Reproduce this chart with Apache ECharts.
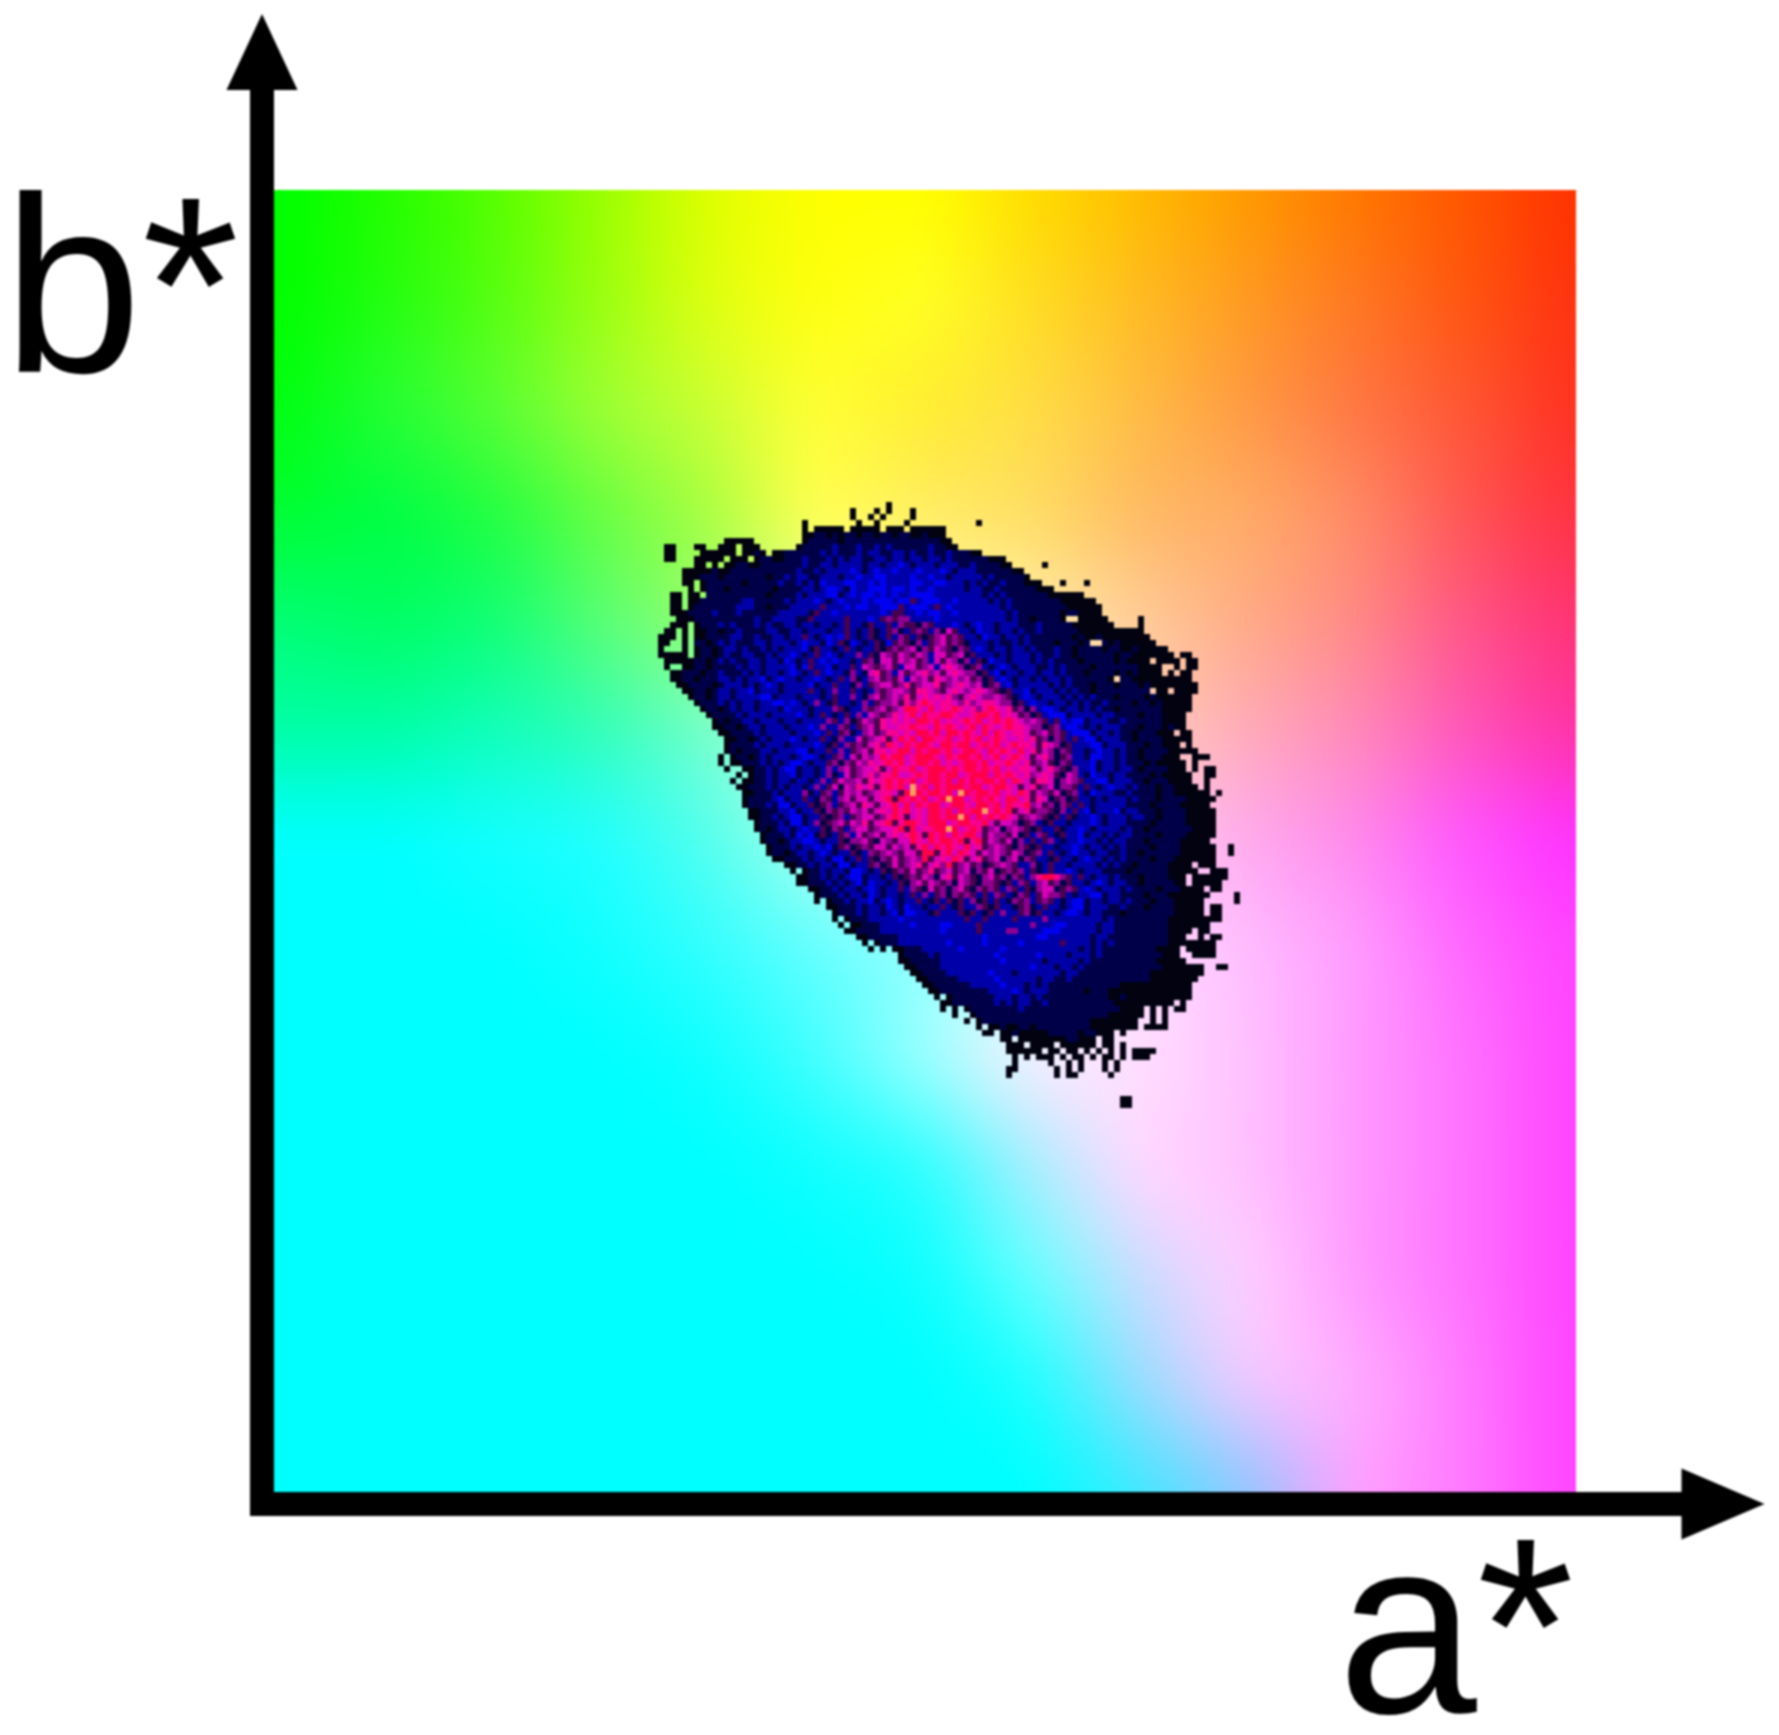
<!DOCTYPE html>
<html>
<head>
<meta charset="utf-8">
<title>a* b* scatter</title>
<style>
  html, body { margin: 0; padding: 0; background: #fff; }
  #main { width: 1779px; height: 1735px; }
  #main canvas { filter: blur(1px); }
</style>
<script src="https://cdn.jsdelivr.net/npm/echarts@6/dist/echarts.min.js"></script>
</head>
<body>
<div id="main"></div>
<script>
// colour field behind the cloud, read at 13 x 13 places, top row first
const fieldColors = [
  ['00ff00','22ff00','55ff00','99ff00','ddff00','ffff00','ffff00','ffdd00','ffbb00','ff9900','ff7700','ff5500','ff3300'],
  ['00ff00','22ff11','55ff11','99ff11','ddff11','ffff11','ffff22','ffdd22','ffbb22','ff9922','ff7722','ff5511','ff3311'],
  ['00ff11','22ff33','55ff33','99ff33','ccff33','ffff33','ffee33','ffdd44','ffbb44','ff9944','ff7744','ff5533','ff3322'],
  ['00ff33','00ff44','22ff44','66ff44','aaff44','ffff55','ffee66','ffdd66','ffbb66','ffaa66','ff8866','ff5555','ff3344'],
  ['00ff77','00ff66','11ff77','55ff77','99ff77','ddffaa','ffffaa','ffeeaa','ffcc99','ffaa88','ff8888','ff5588','ff3377'],
  ['00ffaa','00ffaa','11ffbb','33ffbb','77ffcc','ccffdd','ffffdd','ffeedd','ffccbb','ffaabb','ff88bb','ff55bb','ff33aa'],
  ['00ffff','00ffff','11ffff','22ffff','55ffee','aaffee','ddffff','ffeeff','ffccee','ffaaee','ff88ee','ff55ff','ff33ff'],
  ['00ffff','00ffff','00ffff','11ffff','33ffff','66ffff','99ffff','ddffff','ffddff','ffbbff','ff99ff','ff66ff','ff44ff'],
  ['00ffff','00ffff','00ffff','00ffff','11ffff','44ffff','99ffff','f4eeff','ffddff','ffc0ff','ff99ff','ff70ff','ff44ff'],
  ['00ffff','00ffff','00ffff','00ffff','00ffff','11ffff','33ffff','aaeeff','ffd8ff','ffc0ff','ff99ff','ff70ff','ff44ff'],
  ['00ffff','00ffff','00ffff','00ffff','00ffff','00ffff','11ffff','66ffff','ccddff','ffccff','ff99ff','ff70ff','ff44ff'],
  ['00ffff','00ffff','00ffff','00ffff','00ffff','00ffff','00ffff','22ffff','99ddff','f0c8ff','ffaaff','ff77ff','ff44ff'],
  ['00ffff','00ffff','00ffff','00ffff','00ffff','00ffff','00ffff','00ffff','44e8ff','99c4ff','ffa0ff','ff77ff','ff44ff']
]

// density levels of the cloud
const levelKeys = ['k', 'n', 'b', 'B', 'p', 'v', 'm', 'r', 'R', 'y']
const levelColors = ['#020210', '#000048', '#0000a8', '#0000f0', '#480050', '#900090', '#d800b8', '#f80090', '#ff0048', '#ffa060']

// cloud cells row by row from the top, [first column, levels], '.' is an empty cell
const cloudFirstRow = 52
const cloudFirstCol = 61
const cloudRows = [
  [41, 'k'],
  [35, 'k...k.k...k'],
  [35, 'k..k.k....k'],
  [27, 'k........k ..k....k.. .........k'],
  [27, 'k.kkkkk.kk kkk.kkk.kk kkkk'],
  [27, 'kknnknknnk nnknnknnkk nkkk'],
  [14, 'kkkkk..... ...knnnnnk nnnnnnnnnn nnnnnnkk'],
  [4, 'kk...kk..k kk.kkk.... ..knnnnnbn nnbnnbnbnn nnnnbnnkk'],
  [4, 'kk....kkkk kk.kknk.kk nnnnnnbnbn nnbnbbnnbb nbnnbnnbnn nkk'],
  [4, 'kk...kkkkk .kkk.knnkk nnnbnnnbnb nbbnnbbnbb nbbnbbnbnn nnnnkkk'],
  [9, 'kk.k.kknnk knnnnnnnbn nbbnbbbbnb bnbbBbnbbb nbbbnnbnnn nkk.....k'],
  [7, 'kkkkknkknn nnnnnnnnnb nnbnbbbbBb nbBbbBbbbB bbbBbnbbbn nnnnnkk'],
  [7, 'kkknnnknnn nnnnknnbnb bnnbbbnbbB bbBBbbbbBb bBbbnbbbbb nbnnnnnk'],
  [7, 'kk.knnnnnn knnnnnbnnb nbnBbbbBBb bBbBbbbbBB bbBBbbbnbn bnnbnnnkkk ...k...k'],
  [8, 'k.knnnknnn nnnnknnnnb bnbBBbnBbb BBBbBBbBbb Bbbbbbnbbn nbnnnnnnkk k'],
  [5, 'kk.kk.nnnn nnnnnnknnn nbnbbbBBnb BbBBbBbBbb BBBBbbbbbb bbnbnbnnnn nnnkkkkkk'],
  [5, 'kk.kknnnnn nnbbnnnnnb nbbbBbnbBb bbBbBBBbBB pbBBBbbBbb bbbnbnbnnn nnnnnkkkkk k'],
  [5, 'kk.knnnnnn nbbbnnknnn bbbbbpbbbB bBBbbBBBpb BBBbpbBbbb bbbbbnbnnn nnnnnnkkkk kk'],
  [5, 'kkknnnnbnn nbnnnnnnbb bbbnpbbBbb bbbbbBbppb bBbBBbbBbb bbbbbbnbnn nnnnnknnkk kk'],
  [6, 'kkknnnnnnn nnnbnnbbbb nnpbbbbbpb bbBbpvpvvb bbbBbbbbbb bbbbbnbnnk nnnnk..kkk kk.....k'],
  [5, 'kkk.knnnbn bnnnbnbnnb bnbbnbbnbp bbnpbbpbvp pnvpbbbBbn bBbbnbbbnn nbnnnnnkkk kkkk....k'],
  [4, 'kk.k.kknnk nnbnnnnbbn nbbnbbbnbb pbnbpnbpvn bpvpbvnmpb bnBbbnbbnb nnbnnnnnnk kkkkkkkkkk'],
  [3, 'kkk.k.kknn nnbbnnbnnb bnbbpbnbBb Bpbnbpnbpb vpbpnpvmpv pbbnBbbnbb nbnnnnnnnk nkknkkkkkk kk'],
  [3, 'kk..k.nnkn bnbnnnbbnb bbnbBbbnBb pnBbnbpnBp vpnvbpvmpv pnbbbnbnnb nbnnnnknnn kn..nknkkk kkk'],
  [3, 'k...k.knnk nbbnbnnbnb nbbbBnpbbn bpbnbbpnpv pvmnvpmvpn vpbBbnbbnb bnbnnnbnnk nnnnknnkkn kkkkk'],
  [3, 'kkkkk.knnk nbnnbbnnbn bbBbnbpbBb nbbvbpnmvp mvpmvbmmpv mnpbbbnbnb bbnbnnbnnk nnnnnnknnk kkkkkk.kk'],
  [4, 'kkkkknnknb nbnnbbnbbn BbnbpbBbBb bnbpvnmmpm vmpvbmpmvn vbpnBbbnbb bnbnbnnnnk nnnnnknkkk k.kkkk.kk'],
  [4, 'k..kknnknn nnbnbbnbbb bBnBpbbBnb bpbmvpvmpb mmpvmbmrmv npvbnbBbnb bbnnbnbnnn nknnnnnnnk kkk..k.kk'],
  [5, 'kknnnknnbn nnbnbnbbnb BbnbpbBbbn vbnmrpvbmp vmrvmpmrmv vnpbBnbbnb bnbbnbnnnk nnnnknknkk kk.k.kk'],
  [5, 'kknnknnnbb nbnbbBnbBb bnbbBbnbpb vnbvmpvpmb mvmprmvmvm pvnpbBbnbb nbnbbnbnnn nnnk.nnkkk kkkkkkk'],
  [6, 'kknnnnknbb bnbnbBbnbb bbBnbbpbbn vbpvmmpvrp vmmrpvmrmv mnpvbBnbbb bbnbnbnnnk nnnknnnknk kkkkkkk'],
  [7, 'kknnknbbnb bBnbbbnbbb bpbnbvbbpb nbvpvmmvpr rmvpmrmvmr mvpnpbbBnb bbnbnbnnkn nnnnnnnn.k k.kkkk'],
  [8, 'knnknbbnbb bbBBnbbbnb bbnbpbbvbn vmpvmvrpmr mrmrvpmrmv vmvpnbBbnb bbnbnbnbnn nknnnnknkk kkkk'],
  [9, 'knnnbnbnbb nbbBBbBbnb vbnpbbnbvb pvvmprvrRr mrrmvrvmrr mvvnpbBbbn bbnbnbnnbn nnnknnknk kkkk'],
  [10, 'knnknbnbbn bbbnBbbbnb bbvpnbbvpv mpvmRRrmRm rrRrmrvrRr mrpvnvbBBb nbbnbnbnnk nnnnnnnkkk kk'],
  [11, 'knnnnbnbbb nbbbbBbnbp bnbpbvbmvp vrmrRmRrrR RrmmrRRrRm rmpvnpbBBB nbbbbnbbnn nnknnnkkkk'],
  [12, 'knknnbbnbb bnbbnbbbbv pbvnpmvprm rmrmRRrRmr mrRrRmrRrR rmvmvpbpBb BBnbbbnnbn nnnnnkkkk'],
  [12, 'kknnknbbnb bbnbbbBbvb bvpbpvmprm mrrRrrmRrR rmrRmRrmrR rrmvvnpvbB Bbnbnbbbnn nknnnknkk'],
  [13, 'kknnnnbnbb bbnbbbBbpb pvnbvmpvrr mrmRRrRmRR rRrmRmRrmr rmpvmpvpbB BBnbbnbnnk nnnkkk.kk'],
  [14, 'kknnknbnbb bBbnbbpbnv bbmpvmrpmR rRmRRrrRmr RrRmrRrmmr mrpvnvpbpb BBnbbbnnkn nnnkkkkk'],
  [14, 'knnnnbnbbb nbbbbBbnpb vpvpmrvRrm RrRRrmRRrR RmrRrRmrRr rmprmvnpbb bBBnbbbnnn knnkkk.k.'],
  [14, 'knknnnbbnb bbBBnbbpbv bpvmprrmrR RmRrRRrRmr RRrmRrRrmR mrpmvnvpbb nbBbbnbnnk nnnnkkkkk'],
  [13, 'k.knnknbnb bbnbBBbnbp vbmpmvmRrR RmrRRRrmRr RRrRmrRmrR rmpmrvnpvb bnBBbbnbnn knnnkkk..k kk'],
  [13, 'k.kknnnbnb nbBBbnbbpv nvpmvrmrRr RmrRRrRmrm rRRrRmrrRr mrpvmpnvpb bbBnbbnbnn nknkkkkk.k'],
  [14, 'k..kknnbnb BBnbbnbvbv mpvmmrpmRr rRmrRRRrRr RRrRrRmrmr rmpmrvpnvb bBnbbnbbnk nnnnkkk.k. kk'],
  [14, '..k.knnbnb bBnbbnbvnb mpvmrvrrRm mrRrRRrRRm rRRRmRrRrm rvmrmpnmvb nBbbnbbnnn nknkkkkk.. kk'],
  [15, 'k.kknnbnbb nbbnbvbpmv vmprmrRrRr RmrRRrRmRr RrRRrRmRrm prrmnvmvpb bBBnbbbnnk nnnkkkk..k'],
  [16, 'kknnnbnbnb bnbvbpmnmv rmrprRrRmy rRmRrRRRrR RmrRRrmpmr pvmnvvpbpb nbBbbnbnnn knnkkkk.k'],
  [17, 'kknnnbnbbb vnbpvbpmvm pvmrrmpRyR rRRrRmyRrR RrRmrmRrpm vpmnpvbnBb bbnnbnnnnk nnkkkkkk.k'],
  [17, 'knnnnbBnbb pbnvpbvmpm mpmrRpRrRr RmrRyRRmrR rRrmRRmrpr mnpvnpbbnb nbbbnbnnnk nnnnkkkkk'],
  [17, 'knnnbnBBnb bpnpvbpvmp rmpmrRmRmR rRRmrRRrmR RrRmRrrRvm pvnvpbpbnb bbbbnnnnkn nnnkkkkk'],
  [18, 'kknnnbbBnb bpnvpvpmvm pmrmRrRmrm RRrRmRrRRy rRrRpmrpvv pnvbpbBnbb bBnbbnnnkn nnnkkkkk'],
  [18, 'kknnbnbBBn bbpnpvbpvm mpvrRrpmrm RRrRRyRmRr RrRrmpvmvp npbpnbbBbn bbbnbbnnkn nnnkkkkk'],
  [19, 'knnnbnBBnb vnpvmpmvrp mrRprRRrmR RRmrRRrrRm pmmvnpvbnp bbnbbbBbnb bbnnnnknnn nnkkkkk'],
  [19, 'knknbbnbBb bpnvpbvmmp vmmrRpRmrr RRyRmrRrpv mnvmvpnpbb pnbbBbnbbb bnbnnknnnn nnnkkkk'],
  [20, 'knnnbnBbBn pnbpvbmpvm pmrmrRrpRr RmRrRRmpmv vpmnpbvpbn pbbBnbbnbn bbnnnnknnn nkkkkk'],
  [20, 'knnknbbBBb nbbpnvvmpn mvpmmRrmRr RRrRprRpmv pmnvbpbpvb nbbBbbnbnb bnnnknnnnn kkkkk'],
  [21, 'knnnbnbbBb Bnpvnpvpmm pmvmprRmRr RrmRmrpvmv pnvpnpbbnb bBbnbbnbnb nnnnknnnnk kkkkk..k'],
  [21, 'knnknbbnbB bnbbpnbvpv mvpmmpRRpr RmRrmpmvmv pmvnpvbpbn bBbbnbbnnb nnknnnnnnk kkkkk..k'],
  [22, 'kknnnbnbbn BBnbpbpnvp mpvmvRpmrm Rrpmrpvmnv mnvpbbnpbb nbBbbnbnbn nnnknnnkkk kkkk'],
  [24, 'kknnbnbbnB Bnbbpvnpmp vmrpmrvRpv mpvnpvmvpb bvnbpbbnbb bbnbnbnnkn nnnnkkkk.k kk'],
  [25, 'k.knnbnbbn BBbnbpnpvp mpvrpvmpvm nvpmnpvpvb pnbpbbBbnb bbnnnnknnn nnnkkkkk.. kkk'],
  [26, 'kknnbnbnbB Bnbbnbpnpv pmvnmrpmvp nvmpvnvpbv rRRrvpbpbn bbnbnnnknn nnkkk.kkkk kk'],
  [26, 'kknnnbnbnb BnBbbnbpnv mpmvpvnmvp nvvpnpbvpb vmpvnpbbnb Bbnbbnnknn nnnkk.kkkk k'],
  [28, 'kknnbnbbnb Bbnbbpbvpn mpvnvmpnvp vpbvpbpnvm mnpvpbBbnb bbnbnnnnkn nnkkkk.kk'],
  [29, 'knnnbnbbnB bnbbnbpbvb pvnvpvpbpb vpbnvpbpmv vpbnbbBBnb bnnnnknnnk kkkkkk.... k'],
  [29, 'k.knnbnbbB nbBbnbbpbn pbpnpbvnpb pbnvpvbpvp bnbBBnbbnb bnbnnnknnn kkkkk..... k'],
  [31, 'kknnnbnbbn BbnBbbnbbp bnpbbvpnpb bnpvnbpbbn bBBnbbbnnb nnnknnnnkk kkk.kk'],
  [32, 'knnnbnbbnb BnBBbbnpbb bpnpbnpbvb bpvnpbbnbB Bbnbbnnnkn nnnnnnnkkk kk.kk'],
  [32, 'k.knnnbbbb bBbbbbbbbb bbpbbpbbbb pbbbbvbbbb bbbbbnbnnn nnnnnnkkkk kkkkk'],
  [33, 'k.kknnnbbb bbBbbbbBBb bbbpbbbbbb bbvbbbBBbb bbbnbbnnnn nnnnnkkkkk kk'],
  [34, 'kknnnnbbbb bbbbbbBbbb bbpbbbbvvb bbbBBBbbbb bbnbbnnnnn nnnnkkkk.k k'],
  [36, 'kknnnnnbbb bbbbbbbbbb bBbbbbbbbb BBbbbbbbbn bbnnnnnnnn nnkkk..k.k k'],
  [37, 'k.knnnbbbb bbbbBbbbbb BbbbbbBbbb bbbpbbbbnb nbnnnnnnnn nkkkkkkkk'],
  [38, 'k.k.kknnnb bbbbbBbbbb bbBbbbbbbb bbbbbnbnbn nnnnnnnnkk kk.kkkkk'],
  [43, 'knnnnbnbbb bbbbbbBbbb bbbBbbbbnb bbnbnnnnnn nnnnkkk..k kkk'],
  [43, 'kknnnnnbbb bbbbbbbBbb bbbbnbbbbb nbnnnnnnnn nnnkkkkk'],
  [44, 'kknnnnbbbb bbbbbbbbbb bBbbbnbbnb nnnnnnnnnn nnnkkkkkkk ..kk'],
  [45, 'kknnnnbbbb bbbBbbbnbb bbbbbnbbnn nnnnnnnnnn kkkkkkkkk'],
  [46, 'kknnnnnbbb bbbBbbbbbb nbbnnbnnnn nnnnnnnnnk kkkkkkk'],
  [47, 'kknnnnnnbb bbbBbbbnbn bnnnnnnnnn nnnkkkkkkk kkkkk'],
  [48, 'kknnnnnnnn bbbbBbnbbb nnnnnnknnn kkkkkkkkkk kkkk'],
  [49, 'k.knnnnnnn bbbnbbnbnn nnnnnnnnnk knkkkkkkkk kkk'],
  [50, 'kknnnnnnnb nbnbbnnbnn nnnnnnnnnk kkkkkkkkk. k'],
  [50, 'k.k.knnnnn nnnbnnnnnn nnnnnnnnnn kkkk.k.k.k k'],
  [52, 'k..knnnnnn nnnnnnnnnn nnnnnnkkkk kk.k.k.'],
  [54, 'k.knnnnnnn nnnnnnnnnn nkkkkkkkk. .k.k'],
  [56, 'k.kknkknnk nnnnnnnnnk kkkkkkk.kk kk'],
  [57, 'kk.kknkkkk knnnnnknnk kk.k'],
  [60, 'kk.kkkkkkk knnkkk.kk.'],
  [61, 'kkk.kkkk.k kkkkk.kk.k'],
  [61, 'kkkkkk.kk. kk.k.k.k.k .kkkk'],
  [62, 'k.k.kkk.k. kk.k.kk.k. kkk'],
  [62, 'k.....k..k .k...k.k'],
  [61, 'kk......k. k.k...k.k'],
  [61, 'k.......k. kk.....k'],
  [0, ''],
  [0, ''],
  [0, ''],
  [80, 'kk'],
  [80, 'kk']
]

const fieldSize = 217

function cellsOfLevel (key) {
  const cells = []
  cloudRows.forEach(function (row, i) {
    const levels = row[1].replace(/ /g, '')
    for (let j = 0; j < levels.length; j++) {
      if (levels[j] === key) {
        cells.push([cloudFirstCol + row[0] + j + 0.5, fieldSize - (cloudFirstRow + i) - 0.5])
      }
    }
  })
  return cells
}

function makeFieldImage () {
  const small = document.createElement('canvas')
  small.width = fieldColors[0].length
  small.height = fieldColors.length
  const sctx = small.getContext('2d')
  fieldColors.forEach(function (row, y) {
    row.forEach(function (color, x) {
      sctx.fillStyle = '#' + color
      sctx.fillRect(x, y, 1, 1)
    })
  })
  const big = document.createElement('canvas')
  big.width = fieldSize
  big.height = fieldSize
  const bctx = big.getContext('2d')
  bctx.imageSmoothingEnabled = true
  bctx.imageSmoothingQuality = 'high'
  bctx.drawImage(small, 0.5, 0.5, small.width - 1, small.height - 1, 0, 0, fieldSize, fieldSize)
  return big
}

const fieldImage = makeFieldImage()

const cloudSeries = levelKeys.map(function (key, i) {
  return {
    name: key,
    type: 'scatter',
    silent: true,
    symbol: 'rect',
    symbolSize: 6,
    itemStyle: { color: levelColors[i], opacity: 1 },
    data: cellsOfLevel(key),
    z: 3
  }
})

const axisFont = { color: '#000', fontFamily: 'Liberation Sans', fontSize: 250, lineHeight: 250 }

const chart = echarts.init(document.getElementById('main'), null, { renderer: 'canvas' })
chart.setOption({
  animation: false,
  backgroundColor: '#fff',
  grid: { left: 262, top: 52, width: 1461, height: 1452, outerBoundsMode: 'none' },
  xAxis: {
    type: 'value',
    min: -2,
    max: 241.5,
    name: 'a*',
    nameLocation: 'end',
    nameGap: 0,
    nameTextStyle: Object.assign({ align: 'right', verticalAlign: 'top', padding: [15, 149, 0, 0] }, axisFont),
    axisTick: { show: false },
    axisLabel: { show: false },
    splitLine: { show: false },
    axisLine: {
      onZero: false,
      symbol: ['none', 'triangle'],
      symbolSize: [71, 83],
      lineStyle: { color: '#000', width: 24, cap: 'square' }
    },
    z: 5
  },
  yAxis: {
    type: 'value',
    min: -2,
    max: 240,
    name: 'b*',
    nameLocation: 'end',
    nameGap: 0,
    nameTextStyle: Object.assign({ align: 'right', verticalAlign: 'top', padding: [126, 23, 0, 0] }, axisFont),
    axisTick: { show: false },
    axisLabel: { show: false },
    splitLine: { show: false },
    axisLine: {
      onZero: false,
      symbol: ['none', 'triangle'],
      symbolSize: [71, 76],
      lineStyle: { color: '#000', width: 24, cap: 'square' }
    },
    z: 5
  },
  series: [{
    type: 'custom',
    silent: true,
    clip: false,
    data: [[0, fieldSize, fieldSize, 0]],
    encode: { x: [0, 2], y: [1, 3] },
    z: 1,
    renderItem: function (params, api) {
      const a = api.coord([api.value(0), api.value(1)])
      const b = api.coord([api.value(2), api.value(3)])
      return {
        type: 'image',
        style: { image: fieldImage, x: a[0], y: a[1], width: b[0] - a[0], height: b[1] - a[1] }
      }
    }
  }].concat(cloudSeries)
})
</script>
</body>
</html>
